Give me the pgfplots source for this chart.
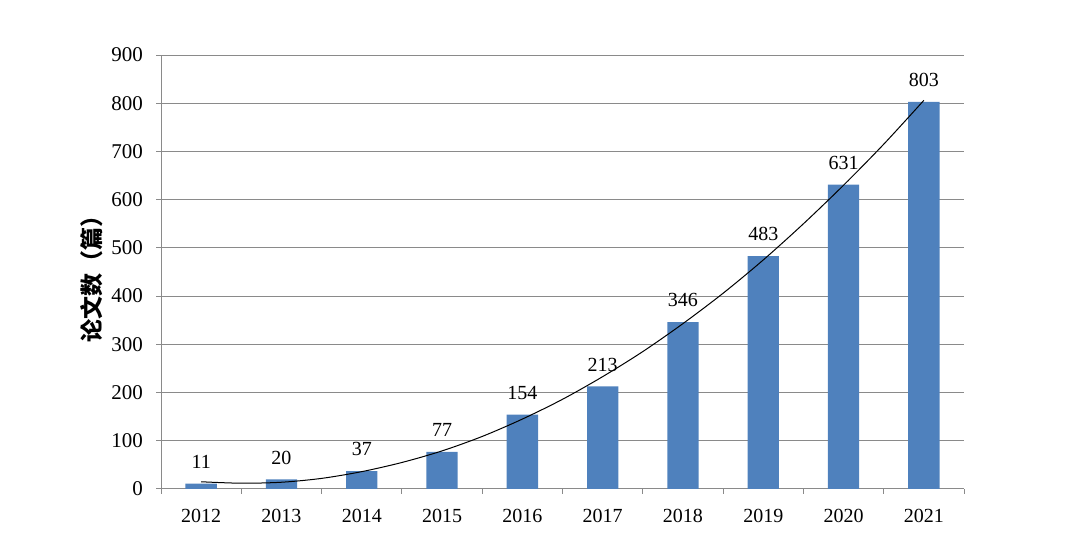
\documentclass[border=0pt]{standalone}
\usepackage{pgfplots}
\pgfplotsset{compat=1.18}
\usepackage{fontspec}
\setmainfont{Liberation Serif}
\newfontfamily\cjk{Noto Sans CJK SC}
\definecolor{barblue}{HTML}{4F81BD}
\definecolor{gridgray}{HTML}{8A8A8A}

\begin{document}
\begin{tikzpicture}
\path[use as bounding box] (0pt,0pt) rectangle (540pt,270pt);
\begin{axis}[
  at={(80.5pt,25.5pt)}, anchor=south west,
  scale only axis, width=401.5pt, height=217pt,
  xmin=-0.5, xmax=9.5, ymin=0, ymax=900,
  ytick={0,100,...,900},
  xtick={-0.5,0.5,...,9.5},
  x tick label as interval,
  xticklabels={2012,2013,2014,2015,2016,2017,2018,2019,2020,2021},
  axis x line*=bottom, axis y line*=left,
  axis line style={gridgray, line width=0.5pt, -},
  ymajorgrids, grid style={gridgray, line width=0.5pt},
  tick style={gridgray, line width=0.5pt},
  tick align=outside, major tick length=2.5pt,
  /pgf/number format/assume math mode=true,
  ticklabel style={font=\fontsize{10}{12}\selectfont},
  x tick label style={yshift=-4pt},
  y tick label style={xshift=-3pt, font=\fontsize{10.5}{12}\selectfont},
  ylabel={\cjk\bfseries 论文数（篇）},
  ylabel style={at={(axis description cs:-0.086,0.497)}, anchor=center,
    font=\fontsize{11.5}{13}\selectfont},
  clip=false,
]
\addplot[ybar, bar width=0.39, fill=barblue, draw=none,
  nodes near coords,
  every node near coord/.style={font=\fontsize{10}{12}\selectfont, black, yshift=4pt}]
  coordinates {(0,11) (1,20) (2,37) (3,77) (4,154) (5,213) (6,346) (7,483) (8,631) (9,803)};
\addplot[black, line width=0.5pt, smooth, mark=none]
  coordinates {(0,15) (0.5,12) (1,14) (1.5,22) (2,36) (2.5,55) (3,79) (3.5,109)
    (4,145) (4.5,186) (5,233) (5.5,285) (6,343) (6.5,406) (7,475) (7.5,550)
    (8,630) (8.5,715) (9,806)};
\end{axis}
\end{tikzpicture}
\end{document}
